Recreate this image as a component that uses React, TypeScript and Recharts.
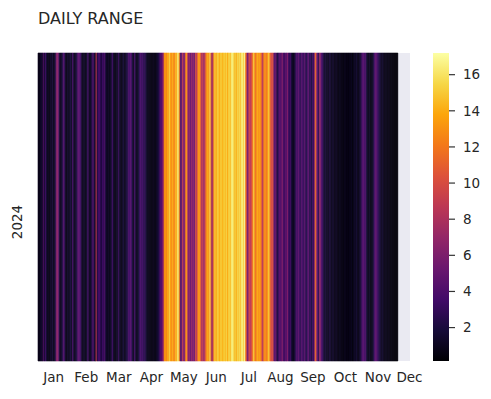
import React from 'react';
import { BarChart, Bar, XAxis, YAxis, Cell, CartesianGrid, ReferenceArea } from 'recharts';

const title = 'DAILY RANGE';
const yearLabel = '2024';
const monthLabels = ['Jan', 'Feb', 'Mar', 'Apr', 'May', 'Jun', 'Jul', 'Aug', 'Sep', 'Oct', 'Nov', 'Dec'];
const monthTickDays = [15, 47, 79, 111, 143, 175, 207, 238, 270, 302, 334, 365];
const colorbarTicks = [2, 4, 6, 8, 10, 12, 14, 16];

const janRange = [0.9, 0.6, 1.1, 1.6, 1.0, 4.2, 1.2, 3.6, 1.8, 0.8, 1.1, 0.5, 1.4, 0.9, 2.0, 0.7, 1.2, 2.4, 6.2, 6.8, 5.0, 1.6, 0.8, 1.3, 2.4, 4.4, 2.8, 1.0, 0.6, 1.5, 0.9];
const febRange = [1.2, 1.9, 1.0, 3.8, 1.4, 0.8, 1.6, 2.2, 4.2, 4.8, 4.0, 3.0, 1.1, 0.7, 1.5, 1.0, 0.6, 1.8, 4.0, 1.2, 0.8, 1.4, 2.8, 4.4, 2.2, 1.0, 9.0, 2.0, 3.4];
const marRange = [4.0, 3.0, 1.6, 3.6, 2.6, 4.2, 2.4, 1.2, 0.8, 1.4, 0.7, 1.1, 1.6, 3.6, 1.3, 0.9, 0.6, 1.5, 1.0, 3.2, 1.5, 1.0, 0.6, 1.2, 1.8, 0.8, 1.3, 2.0, 2.4, 4.0, 3.4];
const aprRange = [4.4, 3.0, 1.5, 1.0, 3.8, 1.4, 0.8, 1.2, 1.9, 3.2, 4.0, 2.8, 3.6, 2.2, 3.0, 1.8, 1.1, 0.7, 1.0, 0.6, 0.8, 0.5, 1.0, 0.8, 0.6, 0.9, 1.3, 1.7, 2.5, 4.2];
const mayRange = [3.8, 5.5, 6.5, 12.8, 13.5, 12.2, 14.0, 13.2, 15.6, 13.8, 12.6, 14.2, 13.0, 12.4, 14.5, 13.6, 16.2, 15.8, 12.0, 3.8, 4.5, 9.0, 6.2, 5.8, 11.5, 13.4, 8.5, 5.5, 6.8, 4.9, 7.2];
const junRange = [5.6, 6.5, 5.2, 10.5, 8.2, 12.0, 13.5, 13.0, 10.0, 7.5, 9.2, 6.8, 8.8, 11.8, 13.2, 14.0, 12.8, 15.8, 11.0, 6.0, 9.5, 14.0, 15.2, 13.5, 14.8, 15.6, 13.8, 14.6, 15.4, 14.2];
const julRange = [14.6, 15.4, 14.2, 15.8, 13.8, 15.0, 15.6, 14.4, 16.2, 16.6, 15.9, 14.6, 15.2, 14.0, 15.6, 14.8, 15.8, 14.6, 16.3, 16.6, 15.0, 17.2, 12.5, 9.5, 5.0, 8.2, 9.8, 8.6, 10.2, 12.0, 15.2];
const augRange = [13.0, 11.5, 13.2, 14.0, 12.8, 13.6, 12.4, 10.5, 8.0, 12.2, 13.0, 12.6, 11.8, 13.8, 15.2, 12.0, 10.0, 9.6, 10.4, 4.6, 4.2, 5.4, 1.6, 2.8, 4.0, 4.8, 3.6, 6.8, 4.2, 3.0, 5.0];
const sepRange = [3.6, 6.8, 4.0, 2.6, 3.8, 2.0, 1.2, 0.8, 1.4, 2.4, 4.2, 3.2, 5.0, 3.4, 2.6, 4.4, 3.6, 2.8, 4.6, 3.0, 2.2, 3.8, 4.8, 2.4, 3.2, 1.8, 3.6, 2.8, 7.6, 11.5];
const octRange = [6.4, 4.0, 2.6, 7.4, 5.6, 3.4, 3.0, 1.8, 1.2, 2.0, 0.9, 1.4, 0.8, 2.2, 1.1, 0.7, 1.6, 1.0, 0.6, 1.2, 0.9, 0.5, 0.7, 1.1, 0.5, 0.8, 0.4, 0.7, 1.0, 0.5, 0.8];
const novRange = [0.5, 0.9, 0.6, 1.1, 0.4, 0.7, 1.3, 0.8, 1.7, 1.0, 0.6, 1.2, 1.6, 2.8, 4.0, 4.6, 3.4, 4.2, 2.0, 1.1, 0.7, 1.4, 0.6, 0.9, 1.2, 2.2, 3.8, 4.8, 4.2, 3.2];
const decRange: (number | null)[] = [2.6, 2.0, 1.4, 1.0, 1.5, 0.8, 0.6, 0.9, 0.7, 0.5, 0.8, 0.5, 0.4, 0.6, 0.3, 0.5, 0.15, 0.4, 0.3, null, null, null, null, null, null, null, null, null, null, null, null];

const dailyRange: (number | null)[] = [
  ...janRange, ...febRange, ...marRange, ...aprRange, ...mayRange, ...junRange,
  ...julRange, ...augRange, ...sepRange, ...octRange, ...novRange, ...decRange,
];

const INFERNO = ['#000004', '#160b39', '#420a68', '#6a176e', '#932667', '#bc3754', '#dd513a', '#f37819', '#fca50a', '#f6d746', '#fcffa4'];

function hexToRgb(h: string) {
  return [parseInt(h.slice(1, 3), 16), parseInt(h.slice(3, 5), 16), parseInt(h.slice(5, 7), 16)];
}
function infernoColor(t: number) {
  const c = Math.max(0, Math.min(1, t)) * (INFERNO.length - 1);
  const i = Math.min(Math.floor(c), INFERNO.length - 2);
  const f = c - i;
  const a = hexToRgb(INFERNO[i]);
  const b = hexToRgb(INFERNO[i + 1]);
  const r = a.map((v, k) => Math.round(v + (b[k] - v) * f));
  return `rgb(${r[0]},${r[1]},${r[2]})`;
}

const present = dailyRange.filter((v): v is number => v != null);
const vmin = Math.min(...present);
const vmax = Math.max(...present);

const chartData = dailyRange.map((v, i) => ({ day: i, value: v, cell: v == null ? null : 1 }));

const TEXT = '#262626';
const FONT = '"DejaVu Sans", sans-serif';

const YearTick = (props: any) => {
  const y = props.y + 15;
  return (
    <text x={17} y={y} transform={`rotate(-90, 17, ${y})`} textAnchor="middle" dominantBaseline="central"
      fill={TEXT} fontSize={13.5} fontFamily={FONT}>{yearLabel}</text>
  );
};

const monthName = (d: any) => {
  const idx = monthTickDays.indexOf(Number(d));
  return idx >= 0 ? monthLabels[idx] : '';
};

const gradientStops = INFERNO.map((c, i) => ({ color: c, t: i / (INFERNO.length - 1) })).reverse();

export default function App() {
  return (
    <div style={{ position: 'absolute', left: 0, top: 0, width: 491, height: 399, background: '#fff', fontFamily: FONT }}>
      <svg width={0} height={0} style={{ position: 'absolute' }}>
        <defs>
          <linearGradient id="cbGrad" x1="0" y1="0" x2="0" y2="1">
            {gradientStops.map((s, i) => (
              <stop key={i} offset={`${(1 - s.t) * 100}%`} stopColor={s.color} />
            ))}
          </linearGradient>
        </defs>
      </svg>
      <svg width={491} height={40} style={{ position: 'absolute', left: 0, top: 0 }}>
        <text x={38} y={24} fill={TEXT} fontSize={16} fontFamily={FONT}>{title}</text>
      </svg>
      <div style={{ position: 'absolute', left: 0, top: 0 }}>
        <BarChart width={430} height={399} data={chartData} margin={{ top: 53, right: 20, bottom: 8, left: 0 }}
          barCategoryGap={0} barGap={0}>
          <CartesianGrid fill="#eaeaf2" horizontal={false} vertical={false} stroke="none" />
          <XAxis dataKey="day" type="category" ticks={monthTickDays} interval={0} tickFormatter={monthName}
            axisLine={false} tickLine={false} tickSize={6} tickMargin={5} height={30}
            tick={{ fill: TEXT, fontSize: 13.5, fontFamily: FONT }} />
          <YAxis type="number" domain={[0, 1]} ticks={[0.5]} width={38} axisLine={false} tickLine={false} tick={<YearTick />} />
          <Bar dataKey="cell" isAnimationActive={false}>
            {chartData.map((d, i) => {
              const col = d.value == null ? 'none' : infernoColor((d.value - vmin) / (vmax - vmin));
              return <Cell key={i} fill={col} stroke={col} strokeWidth={0.6} />;
            })}
          </Bar>
        </BarChart>
      </div>
      <div style={{ position: 'absolute', left: 0, top: 0 }}>
        <BarChart width={491} height={399} data={[{ k: 0 }]} margin={{ top: 53, right: 0, bottom: 38, left: 433 }}>
          <XAxis dataKey="k" hide />
          <YAxis orientation="right" type="number" domain={[vmin, vmax]} ticks={colorbarTicks} width={42}
            axisLine={false} tickLine={{ stroke: '#333333', strokeWidth: 1.2 }} tickSize={6} tickMargin={8}
            tick={{ fill: TEXT, fontSize: 13.5, fontFamily: FONT }} allowDataOverflow />
          <ReferenceArea y1={vmin} y2={vmax} fill="url(#cbGrad)" fillOpacity={1} stroke="none" ifOverflow="extendDomain" />
        </BarChart>
      </div>
    </div>
  );
}
